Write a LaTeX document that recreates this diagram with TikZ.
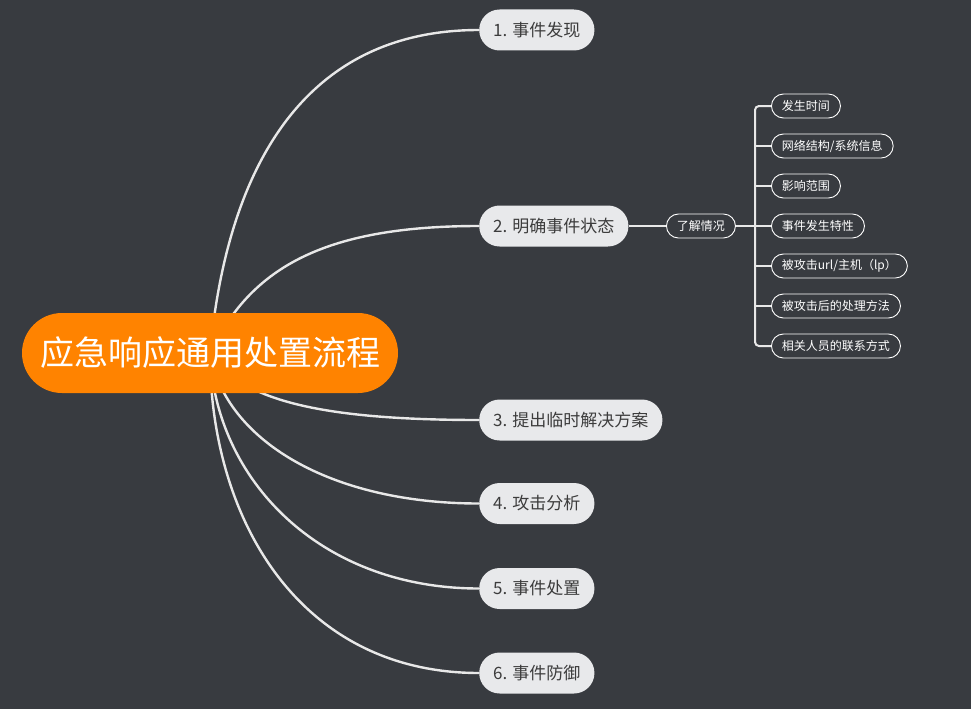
\documentclass[tikz,border=0pt]{standalone}
\usepackage{fontspec}
\setmainfont{Noto Sans CJK SC}
\usetikzlibrary{backgrounds}
\definecolor{bgc}{HTML}{383B40}
\definecolor{mainfill}{HTML}{E8E9EB}
\definecolor{maintext}{HTML}{3C3C3C}
\definecolor{rootfill}{HTML}{FF8300}
\definecolor{linec}{HTML}{E8E8E8}
\begin{document}
\begin{tikzpicture}[x=1pt,y=-1pt,
  rootbox/.style={fill=rootfill,text=white,rounded corners=40pt,minimum width=376pt,minimum height=80pt,inner sep=0pt,font=\fontsize{34}{40}\selectfont},
  mainbox/.style={fill=mainfill,text=maintext,rounded corners=20.5pt,minimum height=41pt,inner xsep=14pt,inner ysep=0pt,anchor=west,font=\fontsize{17}{19}\selectfont},
  subbox/.style={draw=white,fill=bgc,text=white,line width=0.9pt,rounded corners=12pt,minimum height=24pt,inner xsep=10.5pt,inner ysep=0pt,anchor=west,font=\fontsize{12}{14}\selectfont},
  link/.style={draw=linec,line width=2.4pt},
  thin/.style={draw=linec,line width=2pt,rounded corners=4pt}]
\useasboundingbox (0,0) rectangle (971,709);

\node[rootbox] (root) at (210,353) {应急响应通用处置流程};
\node[mainbox] (m1) at (479,30) {1. 事件发现};
\node[mainbox] (m2) at (479,226) {2. 明确事件状态};
\node[mainbox] (m3) at (479,420) {3. 提出临时解决方案};
\node[mainbox] (m4) at (479,503.5) {4. 攻击分析};
\node[mainbox] (m5) at (479,588.5) {5. 事件处置};
\node[mainbox] (m6) at (479,673) {6. 事件防御};

\node[subbox] (k) at (666,226) {了解情况};
\coordinate (fork) at (755,226);
\node[subbox] (s1) at (771,106) {发生时间};
\node[subbox] (s2) at (771,146) {网络结构/系统信息};
\node[subbox] (s3) at (771,186) {影响范围};
\node[subbox] (s4) at (771,226) {事件发生特性};
\node[subbox] (s5) at (771,266) {被攻击url/主机（lp）};
\node[subbox] (s6) at (771,306) {被攻击后的处理方法};
\node[subbox] (s7) at (771,346) {相关人员的联系方式};

\begin{scope}[on background layer]
\fill[bgc] (0,0) rectangle (971,709);
\path[link] (root.center) .. controls (225,190) and (290,30) .. (m1.west);
\path[link] (root.center) .. controls (250,270) and (320,226) .. (m2.west);
\path[link] (root.center) .. controls (240,400) and (320,420) .. (m3.west);
\path[link] (root.center) .. controls (225,440) and (330,503.5) .. (m4.west);
\path[link] (root.center) .. controls (215,480) and (320,588.5) .. (m5.west);
\path[link] (root.center) .. controls (210,520) and (300,673) .. (m6.west);
\path[thin] (m2.east) -- (k.west);
\path[thin] (k.east) -- (fork);
\path[thin] (s1.west) -| (fork) |- (s7.west);
\foreach \i in {2,...,6} { \path[thin] (fork |- s\i.west) -- (s\i.west); }
\end{scope}
\end{tikzpicture}
\end{document}
